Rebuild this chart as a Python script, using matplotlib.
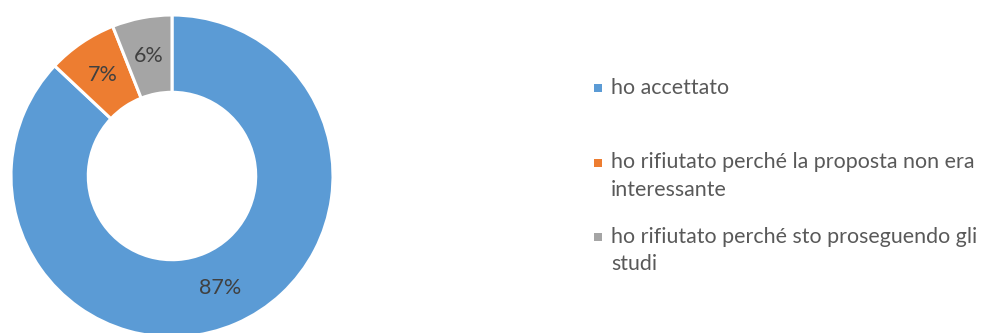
import matplotlib.pyplot as plt
from matplotlib.patches import Rectangle

plt.rcParams['font.family'] = ['Lato', 'DejaVu Sans']

categories = [
    'ho accettato',
    'ho rifiutato perché la proposta non era\ninteressante',
    'ho rifiutato perché sto proseguendo gli\nstudi',
]
shares = [87, 7, 6]
colors = ['#5B9BD5', '#ED7D31', '#A5A5A5']

W, H = 993, 333


def draw_legend(fig: plt.Figure) -> None:
    """Excel-style legend: small square, label lines wrapped below."""
    marker_y = [88, 162.5, 237]  # pixel rows of the first line of each entry
    line_step = 27.5
    for color, label, y0 in zip(colors, categories, marker_y):
        fig.add_artist(Rectangle(
            ((598 - 4) / W, 1 - (y0 + 4) / H), 8 / W, 8 / H,
            transform=fig.transFigure, facecolor=color, edgecolor='none'))
        for i, line in enumerate(label.split('\n')):
            fig.text(611 / W, 1 - (y0 + 6 + i * line_step) / H, line,
                     va='baseline', ha='left', fontsize=15.4,
                     color='#595959')


def main() -> None:
    fig = plt.figure(figsize=(W / 100, H / 100), dpi=100)
    # square axes centred on the donut (pixel centre 172, 176; radius 161)
    ax = fig.add_axes([11 / W, -4 / H, 322 / W, 322 / H])

    ax.pie(
        shares, colors=colors, startangle=90, counterclock=False,
        radius=1.0, autopct='%d%%', pctdistance=0.76,
        wedgeprops=dict(width=0.48, edgecolor='white', linewidth=2.2),
        textprops=dict(color='#404040', fontsize=15.5),
    )
    ax.set_xlim(-1, 1)
    ax.set_ylim(-1, 1)

    draw_legend(fig)

    fig.savefig('out.png', dpi=100)


if __name__ == '__main__':
    main()
